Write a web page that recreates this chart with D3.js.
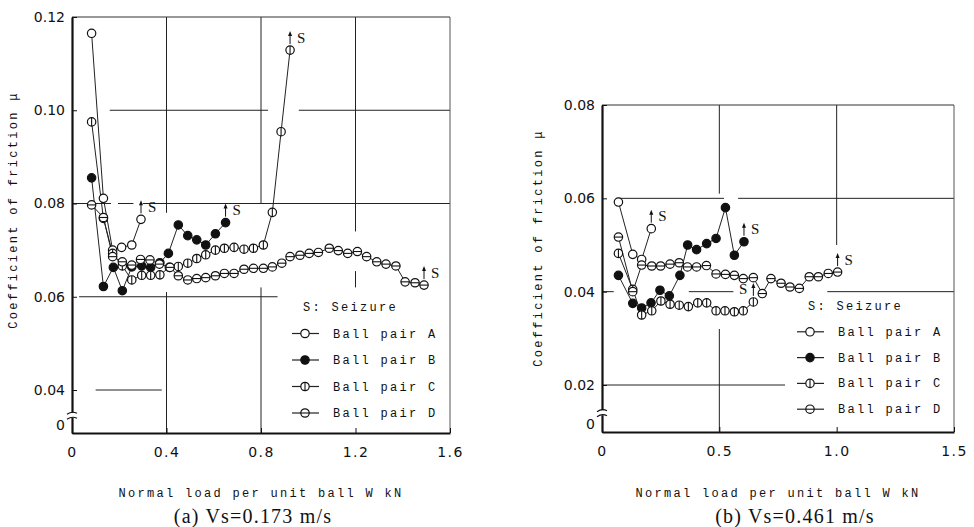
<!DOCTYPE html>
<html>
<head>
<meta charset="utf-8">
<script src="https://cdn.jsdelivr.net/npm/d3@7"></script>
<style>
  html, body { margin: 0; padding: 0; background: #fff; }
  svg { display: block; }
  .tick text { font-family: "DejaVu Sans", sans-serif; font-size: 14px; fill: #111; }
  .mono { font-family: "Liberation Mono", "DejaVu Sans Mono", monospace; font-size: 12px; fill: #111; letter-spacing: 2.3px; }
  .cap { font-family: "Liberation Serif", serif; font-size: 20px; fill: #111; }
  .seiz { font-family: "Liberation Serif", serif; font-size: 15px; fill: #111; }
</style>
</head>
<body>
<svg id="chart" width="974" height="527"></svg>
<script>
// ---- Panel (a): Vs = 0.173 m/s ----
const a_A_load = [0.083, 0.133, 0.172, 0.21, 0.253, 0.292];
const a_A_mu   = [0.1165, 0.0811, 0.0700, 0.0706, 0.0711, 0.0766];

const a_B_load = [0.083, 0.133, 0.175, 0.213, 0.253, 0.295, 0.333, 0.372, 0.408, 0.45, 0.49, 0.528, 0.566, 0.607, 0.65];
const a_B_mu   = [0.0855, 0.0622, 0.0663, 0.0613, 0.0664, 0.0666, 0.0663, 0.0673, 0.0693, 0.0754, 0.0731, 0.0722, 0.0711, 0.0735, 0.0759];

const a_C_load = [0.083, 0.133, 0.172, 0.213, 0.253, 0.295, 0.333, 0.372, 0.412, 0.45, 0.49, 0.528, 0.566, 0.607, 0.645, 0.686, 0.728, 0.768, 0.81, 0.848, 0.885, 0.923];
const a_C_mu   = [0.0975, 0.0768, 0.0693, 0.0666, 0.0636, 0.0646, 0.0646, 0.0647, 0.0663, 0.0665, 0.0672, 0.0682, 0.0690, 0.0700, 0.0704, 0.0706, 0.0702, 0.0704, 0.0711, 0.0781, 0.0954, 0.1129];

const a_D_load = [0.083, 0.133, 0.172, 0.213, 0.253, 0.29, 0.33, 0.37, 0.415, 0.45, 0.49, 0.528, 0.566, 0.607, 0.645, 0.686, 0.728, 0.768, 0.81, 0.848, 0.888, 0.923, 0.965, 1.004, 1.043, 1.089, 1.127, 1.167, 1.208, 1.247, 1.29, 1.329, 1.371, 1.41, 1.452, 1.49];
const a_D_mu   = [0.0797, 0.0770, 0.0686, 0.0675, 0.0668, 0.0680, 0.0679, 0.0670, 0.0663, 0.0645, 0.0636, 0.0639, 0.0641, 0.0645, 0.0650, 0.0650, 0.0659, 0.0661, 0.0661, 0.0664, 0.0672, 0.0686, 0.0689, 0.0693, 0.0695, 0.0704, 0.0699, 0.0693, 0.0697, 0.0686, 0.0675, 0.0670, 0.0666, 0.0632, 0.0630, 0.0625];

const a_xTicks = [0, 0.4, 0.8, 1.2, 1.6];
const a_yTicks = [0, 0.04, 0.06, 0.08, 0.10, 0.12];

// ---- Panel (b): Vs = 0.461 m/s ----
const b_A_load = [0.07, 0.131, 0.169, 0.21];
const b_A_mu   = [0.0592, 0.0480, 0.0469, 0.0535];

const b_B_load = [0.07, 0.131, 0.169, 0.209, 0.247, 0.287, 0.332, 0.365, 0.403, 0.446, 0.486, 0.526, 0.564, 0.605];
const b_B_mu   = [0.0435, 0.0375, 0.0365, 0.0376, 0.0403, 0.0391, 0.0435, 0.0500, 0.0490, 0.0503, 0.0514, 0.0580, 0.0478, 0.0507];

const b_C_load = [0.07, 0.131, 0.169, 0.212, 0.251, 0.29, 0.329, 0.368, 0.408, 0.446, 0.486, 0.524, 0.564, 0.602, 0.645];
const b_C_mu   = [0.0482, 0.0405, 0.0350, 0.0359, 0.0380, 0.0373, 0.0371, 0.0368, 0.0376, 0.0376, 0.0359, 0.0359, 0.0357, 0.0359, 0.0378];

const b_D_load = [0.07, 0.131, 0.169, 0.212, 0.25, 0.29, 0.329, 0.364, 0.403, 0.445, 0.486, 0.526, 0.564, 0.602, 0.645, 0.683, 0.72, 0.763, 0.801, 0.841, 0.883, 0.922, 0.964, 1.004];
const b_D_mu   = [0.0517, 0.0400, 0.0457, 0.0455, 0.0455, 0.0459, 0.0462, 0.0453, 0.0453, 0.0456, 0.0438, 0.0437, 0.0435, 0.0428, 0.0430, 0.0396, 0.0428, 0.0418, 0.0410, 0.0407, 0.0432, 0.0432, 0.0439, 0.0442];

const b_xTicks = [0, 0.5, 1.0, 1.5];
const b_yTicks = [0, 0.02, 0.04, 0.06, 0.08];

const seriesNames = ["Ball pair A", "Ball pair B", "Ball pair C", "Ball pair D"];
const markerKinds = ["open", "filled", "vbar", "hbar"];

const svg = d3.select("#chart");

function drawMarker(g, kind, cx, cy, r) {
  g.append("circle").attr("cx", cx).attr("cy", cy).attr("r", r)
    .attr("fill", kind === "filled" ? "#111" : "#fff")
    .attr("stroke", "#111").attr("stroke-width", 1.2);
  if (kind === "vbar") {
    g.append("line").attr("x1", cx).attr("x2", cx).attr("y1", cy - r).attr("y2", cy + r)
      .attr("stroke", "#111").attr("stroke-width", 1.1);
  } else if (kind === "hbar") {
    g.append("line").attr("x1", cx - r).attr("x2", cx + r).attr("y1", cy).attr("y2", cy)
      .attr("stroke", "#111").attr("stroke-width", 1.1);
  }
}

function drawPanel(p) {
  const g = svg.append("g");
  const x = d3.scaleLinear().domain([0, p.xMax]).range([p.left, p.right]);
  const y = d3.scaleLinear().domain([0, p.yBreak, p.yMax]).range([p.bottom, p.bottom - p.breakGap, p.top]);

  // grid segments: [value, from, to]
  p.vGrid.forEach(([v, a, b]) => {
    g.append("line").attr("x1", x(v)).attr("x2", x(v)).attr("y1", y(a)).attr("y2", y(b))
      .attr("stroke", "#222").attr("stroke-width", 1);
  });
  p.hGrid.forEach(([v, a, b, dash]) => {
    g.append("line").attr("y1", y(v)).attr("y2", y(v)).attr("x1", x(a)).attr("x2", x(b))
      .attr("stroke", "#222").attr("stroke-width", 1)
      .attr("stroke-dasharray", dash || null);
  });

  // frame: thin top/right, heavy left/bottom
  g.append("line").attr("x1", p.left).attr("x2", p.right).attr("y1", p.top).attr("y2", p.top)
    .attr("stroke", "#333").attr("stroke-width", 1);
  g.append("line").attr("x1", p.right).attr("x2", p.right).attr("y1", p.top).attr("y2", p.bottom)
    .attr("stroke", "#555").attr("stroke-width", 1);

  const fmtX = d => d === 0 ? "0" : d.toFixed(1);
  const fmtY = d => d === 0 ? "0" : d.toFixed(2);

  const xAxis = g.append("g").attr("transform", `translate(0,${p.bottom})`)
    .call(d3.axisBottom(x).tickValues(p.xTicks).tickFormat(fmtX).tickSizeInner(-5).tickSizeOuter(0).tickPadding(14));
  xAxis.select(".domain").attr("stroke", "#111").attr("stroke-width", 2.2);
  xAxis.selectAll(".tick line").attr("stroke", "#111");
  xAxis.selectAll(".tick text").style("letter-spacing", "1.5px");

  const yAxis = g.append("g").attr("transform", `translate(${p.left},0)`)
    .call(d3.axisLeft(y).tickValues(p.yTicks).tickFormat(fmtY).tickSizeInner(-5).tickSizeOuter(0).tickPadding(7));
  yAxis.select(".domain").attr("stroke", "#111").attr("stroke-width", 2.2);
  yAxis.selectAll(".tick line").attr("stroke", "#111");
  yAxis.selectAll(".tick text").filter(d => d === 0).attr("dy", "-0.25em");

  // axis break marks between 0 and the lowest labelled value
  const by = p.bottom - p.breakGap * 0.4;
  g.append("rect").attr("x", p.left - 3).attr("y", by - 3).attr("width", 6).attr("height", 5).attr("fill", "#fff");
  [by - 3, by + 2].forEach(yy => {
    g.append("path").attr("d", `M${p.left - 5},${yy + 1.5} Q${p.left},${yy - 2} ${p.left + 5},${yy + 0.5}`)
      .attr("fill", "none").attr("stroke", "#111").attr("stroke-width", 1.2);
  });

  // series lines then markers
  const line = d3.line().x(d => x(d[0])).y(d => y(d[1]));
  p.series.forEach((s, i) => {
    const pts = s.load.map((v, k) => [v, s.mu[k]]);
    g.append("path").attr("d", line(pts)).attr("fill", "none").attr("stroke", "#222").attr("stroke-width", 1);
  });
  p.series.forEach((s, i) => {
    const mg = g.append("g");
    s.load.forEach((v, k) => drawMarker(mg, markerKinds[i], x(v), y(s.mu[k]), 4.2));
  });

  // seizure arrows on the last point of each series
  p.series.forEach((s, i) => {
    const n = s.load.length - 1;
    const cx = x(s.load[n]), cy = y(s.mu[n]);
    const y0 = cy - 6, y1 = cy - 19;
    g.append("line").attr("x1", cx).attr("x2", cx).attr("y1", y0).attr("y2", y1 + 3)
      .attr("stroke", "#111").attr("stroke-width", 1);
    g.append("path").attr("d", `M${cx},${y1} L${cx - 2},${y1 + 5} L${cx + 2},${y1 + 5} Z`).attr("fill", "#111");
    const left = p.sLeft && p.sLeft[i];
    g.append("text").attr("class", "seiz")
      .attr("x", left ? cx - 6 : cx + 7).attr("y", (y0 + y1) / 2 + 5)
      .attr("text-anchor", left ? "end" : "start").text("S");
  });

  // legend
  const lg = g.append("g");
  lg.append("text").attr("class", "mono").attr("x", p.legX - 30).attr("y", p.legY + 4).text("S: Seizure");
  seriesNames.forEach((name, i) => {
    const yy = p.legY + p.legStep * (i + 1);
    const mx = p.legX - 28;
    lg.append("line").attr("x1", mx - 13).attr("x2", mx + 14).attr("y1", yy).attr("y2", yy)
      .attr("stroke", "#222").attr("stroke-width", 1.2);
    drawMarker(lg, markerKinds[i], mx, yy, 4.2);
    lg.append("text").attr("class", "mono").attr("x", p.legX).attr("y", yy + 4).text(name);
  });

  // axis titles and caption
  g.append("text").attr("class", "mono").attr("text-anchor", "middle")
    .attr("x", (p.left + p.right) / 2).attr("y", 497).text("Normal load per unit ball W kN");
  g.append("text").attr("class", "mono").attr("text-anchor", "middle")
    .attr("transform", `translate(${p.yTitleX},${p.yTitleY}) rotate(-90)`).attr("dy", "0.35em")
    .text("Coefficient of friction μ");
  g.append("text").attr("class", "cap").attr("text-anchor", "middle").style("letter-spacing", "1.2px")
    .attr("x", p.capX).attr("y", 523).text(p.caption);
}

drawPanel({
  left: 72, right: 450, top: 17, bottom: 433, breakGap: 43,
  xMax: 1.6, yBreak: 0.04, yMax: 0.12,
  xTicks: a_xTicks, yTicks: a_yTicks,
  series: [
    { load: a_A_load, mu: a_A_mu },
    { load: a_B_load, mu: a_B_mu },
    { load: a_C_load, mu: a_C_mu },
    { load: a_D_load, mu: a_D_mu }
  ],
  vGrid: [[0.4, 0.12, 0.078], [0.4, 0.061, 0], [0.8, 0.12, 0.08], [0.8, 0.062, 0], [1.2, 0.12, 0.074], [1.2, 0.0655, 0.062]],
  hGrid: [[0.10, 0.16, 0.83], [0.10, 0.96, 1.6], [0.08, 0.0, 0.26, "16 7"], [0.08, 0.3, 1.6], [0.06, 0.03, 0.87], [0.04, 0.1, 0.38]],
  legX: 333, legY: 307, legStep: 26.5,
  yTitleX: 13, yTitleY: 210,
  capX: 253, caption: "(a) Vs=0.173 m/s"
});

drawPanel({
  left: 602, right: 954, top: 105, bottom: 432, breakGap: 47,
  xMax: 1.5, yBreak: 0.02, yMax: 0.08,
  xTicks: b_xTicks, yTicks: b_yTicks,
  series: [
    { load: b_A_load, mu: b_A_mu },
    { load: b_B_load, mu: b_B_mu },
    { load: b_C_load, mu: b_C_mu },
    { load: b_D_load, mu: b_D_mu }
  ],
  sLeft: [false, false, true, false],
  vGrid: [[0.5, 0.08, 0.061], [0.5, 0.032, 0], [1.0, 0.08, 0.050]],
  hGrid: [[0.06, 0.07, 0.52], [0.06, 0.58, 1.5], [0.04, 0.0, 0.05], [0.04, 0.37, 0.56], [0.04, 0.96, 1.5], [0.02, 0.0, 0.78]],
  legX: 838, legY: 306, legStep: 25.8,
  yTitleX: 538, yTitleY: 248,
  capX: 795, caption: "(b) Vs=0.461 m/s"
});
</script>
</body>
</html>
